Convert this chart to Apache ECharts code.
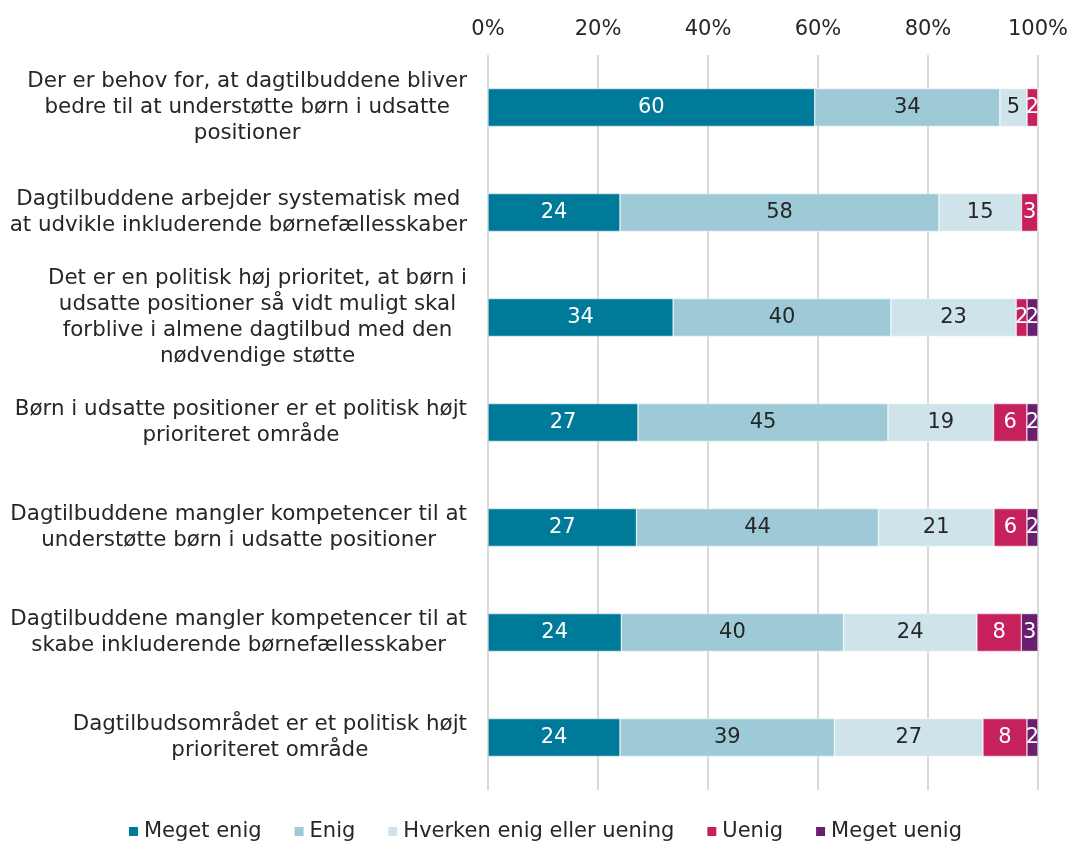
<!DOCTYPE html>
<html>
<head>
<meta charset="utf-8">
<script src="https://cdn.jsdelivr.net/npm/echarts@6/dist/echarts.min.js"></script>
<style>
  html, body { margin: 0; padding: 0; background: #fff; }
  #chart { width: 1071px; height: 843px; }
</style>
</head>
<body>
<div id="chart"></div>
<script>
const categories = [
  "Der er behov for, at dagtilbuddene bliver\nbedre til at understøtte børn i udsatte\npositioner",
  "Dagtilbuddene arbejder systematisk med\nat udvikle inkluderende børnefællesskaber",
  "Det er en politisk høj prioritet, at børn i\nudsatte positioner så vidt muligt skal\nforblive i almene dagtilbud med den\nnødvendige støtte",
  "Børn i udsatte positioner er et politisk højt\nprioriteret område",
  "Dagtilbuddene mangler kompetencer til at\nunderstøtte børn i udsatte positioner",
  "Dagtilbuddene mangler kompetencer til at\nskabe inkluderende børnefællesskaber",
  "Dagtilbudsområdet er et politisk højt\nprioriteret område"
];
const seriesNames = ["Meget enig", "Enig", "Hverken enig eller uening", "Uenig", "Meget uenig"];
const megetEnig = [60, 24, 34, 27, 27, 24, 24];
const enig = [34, 58, 40, 45, 44, 40, 39];
const hverken = [5, 15, 23, 19, 21, 24, 27];
const uenig = [2, 3, 2, 6, 6, 8, 8];
const megetUenig = [0, 0, 2, 2, 2, 3, 2];
const tickLabels = ["0%", "20%", "40%", "60%", "80%", "100%"];

const colors = ["#007A99", "#9DCAD6", "#CEE4EA", "#C7215D", "#6A1F6E"];
const labelColors = ["#ffffff", "#262626", "#262626", "#ffffff", "#ffffff"];
const FONT = "DejaVu Sans";
const FS = 21;

const raw = [megetEnig, enig, hverken, uenig, megetUenig];
// bars are shown as share of row total (100% stacked)
const totals = categories.map((_, i) => raw.reduce((s, arr) => s + arr[i], 0));

const chart = echarts.init(document.getElementById("chart"));
chart.setOption({
  animation: false,
  grid: { left: 488, right: 33, top: 55, bottom: 53 },
  legend: {
    bottom: 1,
    left: 127,
    padding: 0,
    itemWidth: 11,
    itemHeight: 11,
    itemGap: 31,
    icon: "rect",
    textStyle: { fontFamily: FONT, fontSize: FS, color: "#262626", padding: [0, 0, 0, 0] },
    data: seriesNames
  },
  xAxis: {
    type: "value",
    position: "top",
    min: 0,
    max: 100,
    interval: 20,
    axisLine: { show: false },
    axisTick: { show: false },
    axisLabel: {
      fontFamily: FONT, fontSize: FS, color: "#262626", margin: 15,
      formatter: (v) => tickLabels[Math.round(v / 20)]
    },
    splitLine: { lineStyle: { color: "#D9D9D9", width: 2 } }
  },
  yAxis: {
    type: "category",
    inverse: true,
    data: categories,
    axisLine: { show: false },
    axisTick: { show: false },
    axisLabel: {
      margin: 21,
      align: "right",
      // each line centred inside the label block
      formatter: (v) => v.split("\n").map((l) => "{c|" + l + "}").join("\n"),
      rich: {
        c: { fontFamily: FONT, fontSize: 21.4, color: "#262626", align: "center", lineHeight: 26 }
      }
    }
  },
  series: raw.map((arr, k) => ({
    name: seriesNames[k],
    type: "bar",
    stack: "total",
    barWidth: "36%",
    itemStyle: { color: colors[k], borderColor: "#ffffff", borderWidth: 0.5 },
    label: {
      show: true,
      position: "inside",
      fontFamily: FONT,
      fontSize: FS,
      color: labelColors[k],
      formatter: (p) => (arr[p.dataIndex] > 0 ? String(arr[p.dataIndex]) : "")
    },
    data: arr.map((v, i) => (v / totals[i]) * 100)
  }))
});
</script>
</body>
</html>
